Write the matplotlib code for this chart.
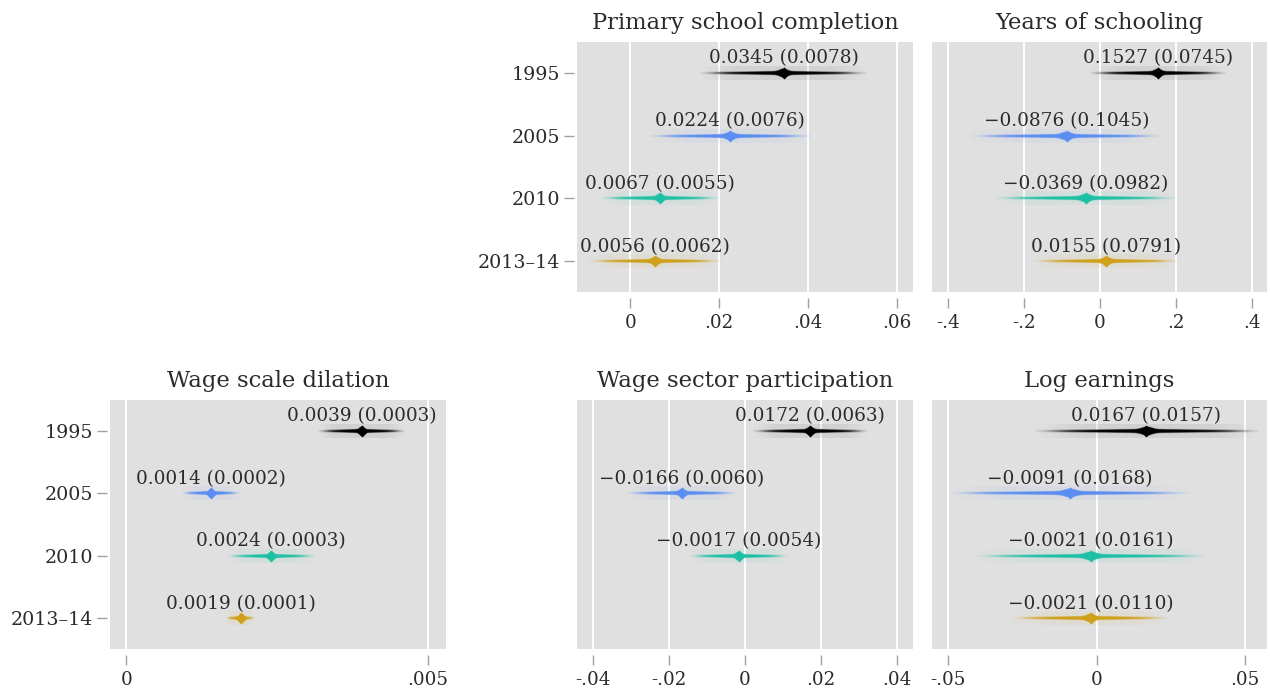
import numpy as np
import matplotlib
matplotlib.use("Agg")
import matplotlib.pyplot as plt
from matplotlib.colors import to_rgba

plt.rcParams["font.family"] = ["DejaVu Serif"]

years = ["1995", "2005", "2010", "2013\u201314"]
year_colors = ["#000000", "#5b8ef2", "#1ec0a5", "#cfa01a"]

primary_est = [0.0345, 0.0224, 0.0067, 0.0056]
primary_se = [0.0078, 0.0076, 0.0055, 0.0062]
school_est = [0.1527, -0.0876, -0.0369, 0.0155]
school_se = [0.0745, 0.1045, 0.0982, 0.0791]
dilation_est = [0.0039, 0.0014, 0.0024, 0.0019]
dilation_se = [0.0003, 0.0002, 0.0003, 0.0001]
sector_est = [0.0172, -0.0166, -0.0017]
sector_se = [0.0063, 0.0060, 0.0054]
earn_est = [0.0167, -0.0091, -0.0021, -0.0021]
earn_se = [0.0157, 0.0168, 0.0161, 0.0110]

primary_ticks = [0, 0.02, 0.04, 0.06]
primary_ticklabels = ["0", ".02", ".04", ".06"]
school_ticks = [-0.4, -0.2, 0, 0.2, 0.4]
school_ticklabels = ["-.4", "-.2", "0", ".2", ".4"]
dilation_ticks = [0, 0.005]
dilation_ticklabels = ["0", ".005"]
sector_ticks = [-0.04, -0.02, 0, 0.02, 0.04]
sector_ticklabels = ["-.04", "-.02", "0", ".02", ".04"]
earn_ticks = [-0.05, 0, 0.05]
earn_ticklabels = ["-.05", "0", ".05"]

W, H = 1270, 694
BG = "#e0e0e0"
TXT = "#2b2b2b"
ZMAX = 2.4
HMAX = 0.11


def fmt(v):
    return f"{v:.4f}".replace("-", "\u2212")


def spindle(ax, est, se, y, color):
    # shaded normal "spindle": opacity and thickness follow the sampling density
    z = np.linspace(-ZMAX, ZMAX, 480)
    dy = np.linspace(-HMAX, HMAX, 61)
    half = 0.018 + 0.012 * np.exp(-(z / 1.0) ** 2) + 0.04 * np.exp(-(z / 0.15) ** 2)
    fade = np.exp(-(np.abs(z) / 2.0) ** 6)
    mask = np.clip((half[None, :] - np.abs(dy)[:, None]) / 0.008 + 0.5, 0, 1)
    alpha = fade[None, :] * mask + 0.07 * fade[None, :] * (1 - mask)
    img = np.zeros((len(dy), len(z), 4))
    img[..., :3] = to_rgba(color)[:3]
    img[..., 3] = alpha
    ax.imshow(img, extent=(est - ZMAX * se, est + ZMAX * se, y + HMAX, y - HMAX),
              aspect="auto", interpolation="bilinear", zorder=3)
    ax.plot([est], [y], marker="D", ms=6, color=color, mec="none", zorder=4)


def panel(rect, title, est, se, ticks, ticklabels, xlim, show_y):
    ax = fig.add_axes(rect)
    ax.set_facecolor(BG)
    for s in ax.spines.values():
        s.set_color("none")
    ax.spines["bottom"].set_position(("outward", 4))
    ax.spines["left"].set_position(("outward", 2))
    for i, (e, s) in enumerate(zip(est, se)):
        spindle(ax, e, s, i, year_colors[i])
        ax.annotate(f"{fmt(e)} ({s:.4f})", (e, i), xytext=(0, 4), textcoords="offset points",
                    ha="center", va="bottom", fontsize=13.3, color=TXT, zorder=5)
    ax.set_xlim(*xlim)
    ax.set_ylim(3.49, -0.49)
    ax.set_xticks(ticks)
    ax.set_xticklabels(ticklabels)
    ax.grid(axis="x", color="white", lw=1.4)
    ax.grid(axis="y", visible=False)
    ax.set_axisbelow(True)
    ax.tick_params(axis="x", length=7, width=1, color="#a0a0a0", labelsize=13.2,
                   labelcolor=TXT, pad=5)
    if show_y:
        ax.set_yticks(range(len(years)))
        ax.set_yticklabels(years)
        ax.tick_params(axis="y", length=7, width=1, color="#a0a0a0", labelsize=13.7,
                       labelcolor=TXT, pad=3)
    else:
        ax.set_yticks([])
    ax.set_title(title, fontsize=16.3, color=TXT, pad=9)
    return ax


def rect(x0, x1, y0, y1):
    return [x0 / W, 1 - y1 / H, (x1 - x0) / W, (y1 - y0) / H]


fig = plt.figure(figsize=(12.7, 6.94), dpi=100)

panel(rect(577, 913, 42, 292), "Primary school completion", primary_est, primary_se,
      primary_ticks, primary_ticklabels, (-0.012, 0.0636), True)
panel(rect(932, 1267, 42, 292), "Years of schooling", school_est, school_se,
      school_ticks, school_ticklabels, (-0.442, 0.44), False)
panel(rect(110, 446, 400, 649), "Wage scale dilation", dilation_est, dilation_se,
      dilation_ticks, dilation_ticklabels, (-0.00027, 0.0053), True)
panel(rect(577, 913, 400, 649), "Wage sector participation", sector_est, sector_se,
      sector_ticks, sector_ticklabels, (-0.0442, 0.0442), False)
panel(rect(932, 1267, 400, 649), "Log earnings", earn_est, earn_se,
      earn_ticks, earn_ticklabels, (-0.0555, 0.0573), False)

fig.savefig("out.png", dpi=100, facecolor="white")
